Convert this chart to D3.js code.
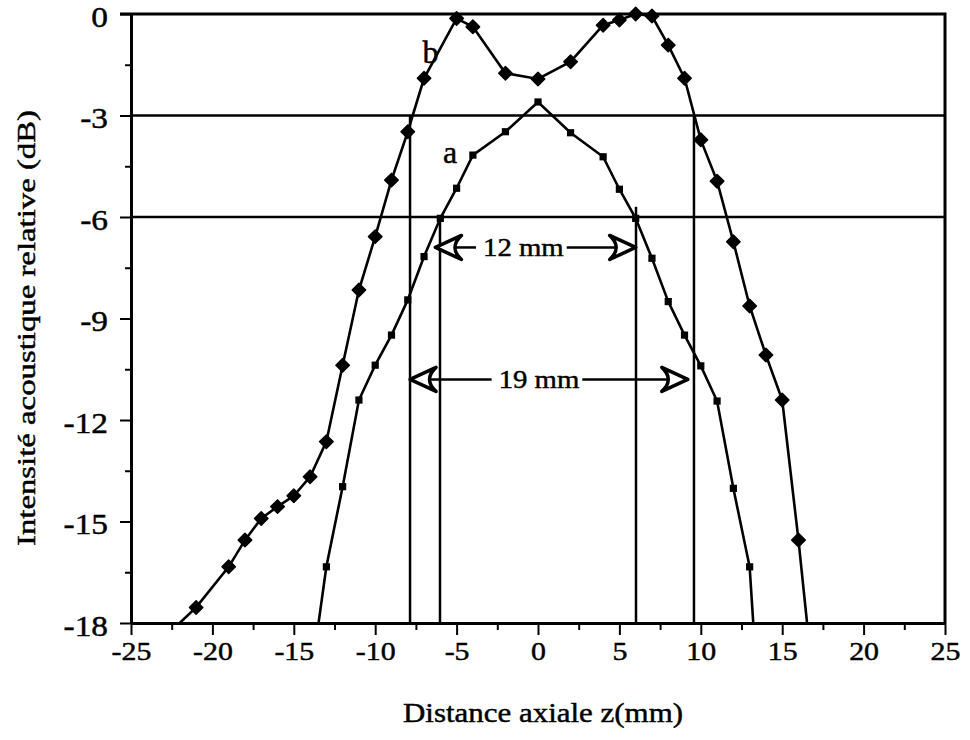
<!DOCTYPE html>
<html>
<head>
<meta charset="utf-8">
<script src="https://cdn.jsdelivr.net/npm/d3@7"></script>
<style>
  body { margin: 0; background: #fff; }
  svg text { font-family: "Liberation Serif", "Times New Roman", serif; fill: #000; stroke: #000; stroke-width: 0.45px; }
</style>
</head>
<body>
<svg id="chart" width="970" height="740"></svg>
<script>
// curve a (squares): axial distance z (mm) and relative level (dB)
const zA  = [-14, -13, -12, -11, -10, -9, -8, -7, -6, -5, -4, -2, 0, 2, 4, 5, 6, 7, 8, 9, 10, 11, 12, 13, 14]
const dbA = [-19.8, -16.34, -13.97, -11.41, -10.38, -9.49, -8.45, -7.17, -6.04, -5.15, -4.17, -3.48, -2.6,
             -3.51, -4.22, -5.18, -6.04, -7.22, -8.5, -9.49, -10.4, -11.44, -14.02, -16.34, -23.8]

// curve b (diamonds)
const zB  = [-23, -21, -19, -18, -17, -16, -15, -14, -13, -12, -11, -10, -9, -8, -7, -5, -4, -2, 0,
             2, 4, 5, 6, 7, 8, 9, 10, 11, 12, 13, 14, 15, 16, 17]
const dbB = [-18.45, -17.54, -16.34, -15.55, -14.91, -14.56, -14.24, -13.68, -12.64, -10.38, -8.16, -6.58,
             -4.91, -3.48, -1.9, -0.13, -0.38, -1.75, -1.92, -1.41, -0.33, -0.18, 0, -0.06, -0.92, -1.9,
             -3.72, -4.94, -6.73, -8.63, -10.08, -11.41, -15.55, -20.2]

// ticks
const xTicks = [-25, -20, -15, -10, -5, 0, 5, 10, 15, 20, 25]
const xMinor = [-22.5, -17.5, -12.5, -7.5, -2.5, 2.5, 7.5, 12.5, 17.5, 22.5]
const yTicks = [0, -3, -6, -9, -12, -15, -18]
const yMinor = [-1.5, -4.5, -7.5, -10.5, -13.5, -16.5]

// -3 dB / -6 dB levels and the cut-off verticals
const refLevels = [-3, -6]
const cutZ   = [-7.86, -6.02, 6.02, 9.58]
const cutTop = [-3, -6, -5.7, -3]

// width arrows
const widthLabels = ["12 mm", "19 mm"]
const widthLevel  = [-6.9, -10.8]
const widthFrom   = [-6.3, -7.86]
const widthTo     = [6.0, 9.2]
const widthTextZ  = [-0.9, 0.06]

// curve names
const curveNames = ["a", "b"]
const nameZ  = [-5.4, -6.6]
const nameDb = [-4.4, -1.46]

const width = 970,
      height = 740,
      margin = ({ top: 14, right: 25, bottom: 117, left: 131 })
const stretch = 1.15

const svg = d3.select("#chart")

const x = d3.scaleLinear()
    .domain([-25, 25])
    .range([margin.left, width - margin.right])
const y = d3.scaleLinear()
    .domain([-18, 0])
    .range([height - margin.bottom, margin.top])

// clip for the curves
svg.append("clipPath").attr("id", "plot")
  .append("rect")
    .attr("x", x(-25)).attr("y", y(0))
    .attr("width", x(25) - x(-25)).attr("height", y(-18) - y(0))

// reference lines
svg.append("g")
  .selectAll("line")
  .data(refLevels)
  .join("line")
    .attr("x1", x(-25)).attr("x2", x(25))
    .attr("y1", d => y(d)).attr("y2", d => y(d))
    .attr("stroke", "#000").attr("stroke-width", 2.5)

svg.append("g")
  .selectAll("line")
  .data(cutZ)
  .join("line")
    .attr("x1", d => x(d)).attr("x2", d => x(d))
    .attr("y1", (d, i) => y(cutTop[i])).attr("y2", y(-18))
    .attr("stroke", "#000").attr("stroke-width", 2.5)

// frame top and right
svg.append("path")
    .attr("d", `M${x(-25) - 11},${y(0)}H${x(25)}V${y(-18)}`)
    .attr("fill", "none").attr("stroke", "#000").attr("stroke-width", 3)

// x axis
svg.append("g")
    .attr("transform", `translate(0,${y(-18)})`)
    .call(d3.axisBottom(x).tickValues(xMinor).tickSize(7).tickSizeOuter(0).tickFormat(""))
    .call(g => g.select(".domain").remove())
    .call(g => g.selectAll(".tick line").attr("stroke-width", 2))

svg.append("g")
    .attr("transform", `translate(0,${y(-18)})`)
    .call(d3.axisBottom(x).tickValues(xTicks).tickSize(12).tickSizeOuter(0).tickPadding(7).tickFormat(d => String(d)))
    .call(g => g.select(".domain").attr("stroke-width", 3))
    .call(g => g.selectAll(".tick line").attr("stroke-width", 2))
    .call(g => g.selectAll(".tick text")
        .attr("font-size", 26)
        .attr("transform", `scale(${stretch},1)`))

// y axis
svg.append("g")
    .attr("transform", `translate(${x(-25)},0)`)
    .call(d3.axisLeft(y).tickValues(yMinor).tickSize(6).tickSizeOuter(0).tickFormat(""))
    .call(g => g.select(".domain").remove())
    .call(g => g.selectAll(".tick line").attr("stroke-width", 2))

svg.append("g")
    .attr("transform", `translate(${x(-25)},0)`)
    .call(d3.axisLeft(y).tickValues(yTicks).tickSize(11).tickSizeOuter(0).tickPadding(9).tickFormat(d => String(d)))
    .call(g => g.select(".domain").attr("stroke-width", 3))
    .call(g => g.selectAll(".tick line").attr("stroke-width", 2))
    .call(g => g.selectAll(".tick text")
        .attr("font-size", 29)
        .attr("dy", "0.42em")
        .attr("transform", `scale(${stretch},1)`))

// curves
const seriesA = zA.map((z, i) => ({ z: z, db: dbA[i] }))
const seriesB = zB.map((z, i) => ({ z: z, db: dbB[i] }))
const inside = d => d.z >= -25 && d.z <= 25 && d.db >= -18 && d.db <= 0

const line = d3.line()
    .x(d => x(d.z))
    .y(d => y(d.db))

for (let s of [seriesA, seriesB]) {
    svg.append("path")
        .datum(s)
        .attr("clip-path", "url(#plot)")
        .attr("fill", "none")
        .attr("stroke", "#000")
        .attr("stroke-width", 2.6)
        .attr("d", line)
}

// markers
svg.append("g")
  .selectAll("path")
  .data(seriesA.filter(inside))
  .join("path")
    .attr("transform", d => `translate(${x(d.z)},${y(d.db)})`)
    .attr("d", d3.symbol(d3.symbolSquare, 52))
    .attr("fill", "#000")

svg.append("g")
  .selectAll("path")
  .data(seriesB.filter(inside))
  .join("path")
    .attr("transform", d => `translate(${x(d.z)},${y(d.db)}) rotate(45)`)
    .attr("d", d3.symbol(d3.symbolSquare, 90))
    .attr("fill", "#000")
    .attr("stroke", "#000")
    .attr("stroke-width", 1.5)
    .attr("stroke-linejoin", "round")

// width arrows with labels
function head(tx, ty, dir) {
    const bx = tx - dir * 26
    return `M${bx},${ty - 12}L${tx},${ty}L${bx},${ty + 12}Q${tx - dir * 13},${ty} ${bx},${ty - 12}Z`
}

widthLabels.forEach((lab, i) => {
    const ly = y(widthLevel[i])
    const cx = x(widthTextZ[i])
    const t = svg.append("text")
        .attr("transform", `translate(${cx},${ly + 9}) scale(${stretch},1)`)
        .attr("text-anchor", "middle")
        .attr("font-size", 25)
        .text(lab)
    const w = t.node().getBBox().width * stretch
    const x1 = x(widthFrom[i]), x2 = x(widthTo[i])

    svg.append("line")
        .attr("x1", x1 + 20).attr("x2", cx - w / 2 - 7)
        .attr("y1", ly).attr("y2", ly)
        .attr("stroke", "#000").attr("stroke-width", 2.5)
    svg.append("line")
        .attr("x1", cx + w / 2 + 3).attr("x2", x2 - 20)
        .attr("y1", ly).attr("y2", ly)
        .attr("stroke", "#000").attr("stroke-width", 2.5)

    svg.append("path").attr("d", head(x1, ly, -1))
        .attr("fill", "#fff").attr("stroke", "#000").attr("stroke-width", 3.5).attr("stroke-linejoin", "round")
    svg.append("path").attr("d", head(x2, ly, 1))
        .attr("fill", "#fff").attr("stroke", "#000").attr("stroke-width", 3.5).attr("stroke-linejoin", "round")
})

// curve names
svg.append("g")
  .selectAll("text")
  .data(curveNames)
  .join("text")
    .attr("x", (d, i) => x(nameZ[i]))
    .attr("y", (d, i) => y(nameDb[i]))
    .attr("text-anchor", "middle")
    .attr("font-size", 32)
    .text(d => d)

// axis titles
svg.append("text")
    .attr("x", 403)
    .attr("y", 722)
    .attr("font-size", 27)
    .attr("textLength", 280)
    .attr("lengthAdjust", "spacingAndGlyphs")
    .text("Distance axiale z(mm)")

svg.append("text")
    .attr("transform", "translate(35,546) rotate(-90)")
    .attr("font-size", 25)
    .attr("textLength", 436)
    .attr("lengthAdjust", "spacingAndGlyphs")
    .text("Intensité acoustique relative (dB)")
</script>
</body>
</html>
